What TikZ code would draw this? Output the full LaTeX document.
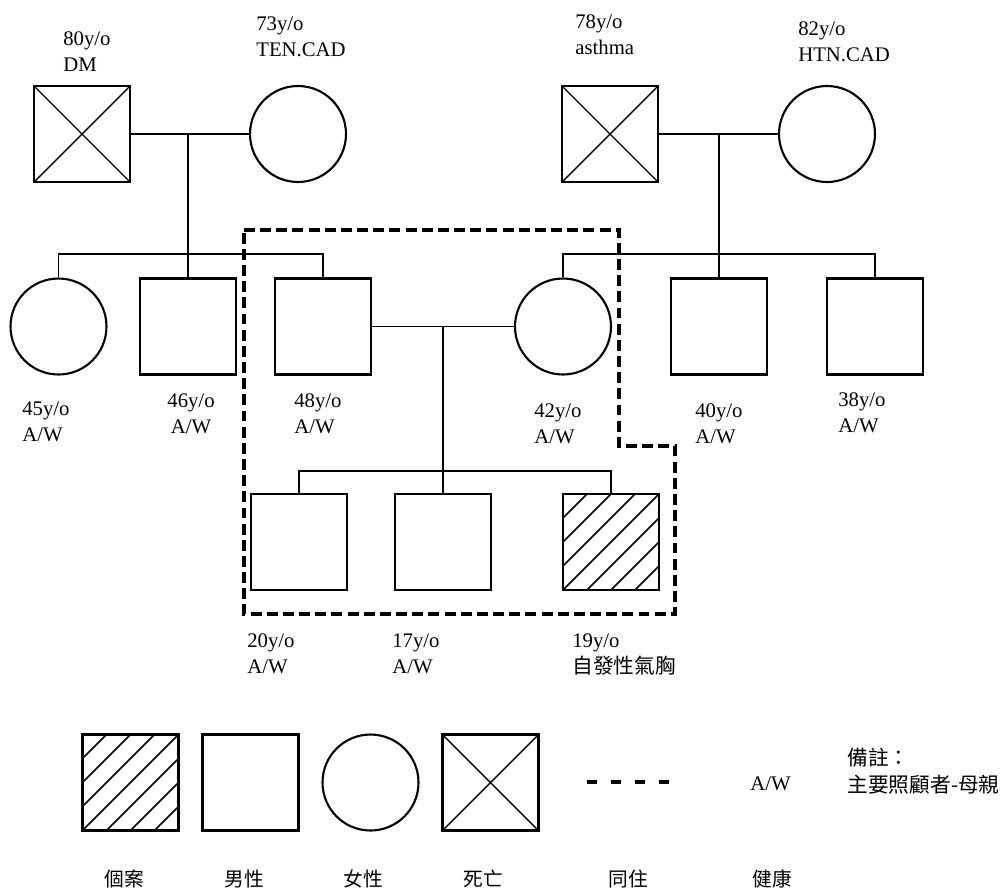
\documentclass[tikz,border=0pt]{standalone}
\usepackage{fontspec}
\setmainfont{Liberation Serif}
\newfontfamily\cjk{Noto Sans CJK TC}
\usetikzlibrary{calc}

\begin{document}
\begin{tikzpicture}[
          x=0.02cm, y=-0.02cm,
          male/.style={rectangle, draw, line width=1.2pt, minimum size=1.92cm,
                       inner sep=0pt},
          heavy/.style={male, line width=1.6pt},
          female/.style={circle, draw, line width=1.2pt, minimum size=1.92cm,
                         inner sep=0pt},
          dead/.style={male, path picture={
              \draw[line width=0.8pt]
                (path picture bounding box.north west) -- (path picture bounding box.south east)
                (path picture bounding box.north east) -- (path picture bounding box.south west);}},
          index/.style={male, path picture={
              \foreach \c in {-3,...,3}
                \draw[line width=0.9pt] ($(path picture bounding box.south west)+(\c*0.48cm,0)$)
                  -- ++(1.92cm,1.92cm);}},
          link/.style={line width=1pt},
          home/.style={line width=2.1pt, dash pattern=on 6.2pt off 3pt},
          lbl/.style={font=\fontsize{11.8}{14.9}\selectfont, inner sep=0pt,
                      anchor=north west, align=left},
          key/.style={font=\fontsize{11.2}{14.9}\selectfont\cjk, inner sep=0pt,
                      anchor=base}
        ]
          \useasboundingbox (0,0) rectangle (1007,890);
          % grandparents
          \node[dead]   (gfa) at (82,134)  {};
          \node[female] (gma) at (298,134) {};
          \node[dead]   (gfb) at (610,134) {};
          \node[female] (gmb) at (827,134) {};
          % second generation
          \node[female] (aunt) at (58.5,326.5) {};
          \node[heavy]  (unca) at (188,326.5)  {};
          \node[heavy]  (dad)  at (323,326.5)  {};
          \node[female] (mom)  at (563,326.5)  {};
          \node[male]   (uncb) at (719,326.5)  {};
          \node[heavy]  (uncc) at (875,326.5)  {};
          % children
          \node[male]  (sona) at (299,542) {};
          \node[male]  (sonb) at (443,542) {};
          \node[index] (case) at (611,542) {};

          \coordinate (siba) at (188,254);
          \coordinate (sibb) at (719,254);
          \coordinate (kids) at (443,471);
          \draw[link] (gfa.east) -- (gma.west);
          \draw[link] (gfb.east) -- (gmb.west);
          \draw[link] (dad.east) -- (mom.west);
          \draw[link] (siba |- gfa.east) -- (unca.north);
          \draw[link] (aunt.north) |- (siba) -| (dad.north);
          \draw[link] (sibb |- gfb.east) -- (uncb.north);
          \draw[link] (mom.north) |- (sibb) -| (uncc.north);
          \draw[link] (kids |- dad.east) -- (sonb.north);
          \draw[link] (sona.north) |- (kids) -| (case.north);

          \draw[home] (244,230) -- (619,230) -- (619,446) -- (675,446)
            -- (675,614) -- (244,614) -- cycle;

          \node[lbl] (tgfa) at (63,31)  {80y/o\\DM};
          \node[lbl] (tgma) at (256,16) {73y/o\\TEN.CAD};
          \node[lbl] (tgfb) at (575,14) {78y/o\\asthma};
          \node[lbl] (tgmb) at (798,21) {82y/o\\HTN.CAD};
          \node[lbl] (taunt) at (22,401) {45y/o\\A/W};
          \node[lbl, anchor=north, align=center] (tunca) at (191,393) {46y/o\\A/W};
          \node[lbl] (tdad) at (294,393) {48y/o\\A/W};
          \node[lbl] (tmom) at (534,403) {42y/o\\A/W};
          \node[lbl] (tuncb) at (695,403) {40y/o\\A/W};
          \node[lbl] (tuncc) at (838,392) {38y/o\\A/W};
          \node[lbl] (tsona) at (247,633) {20y/o\\A/W};
          \node[lbl] (tsonb) at (392,633) {17y/o\\A/W};
          \node[lbl] (tcase) at (572,633) {19y/o\\{\cjk 自發性氣胸}};

          % legend
          \node[index]  (kcase) at (130.5,782.5) {};
          \node[male]   (kmale) at (250.5,782.5) {};
          \node[female] (kfem)  at (370.5,782.5) {};
          \node[dead]   (kdead) at (490.5,782.5) {};
          \coordinate (kla) at (587,782);
          \coordinate (klb) at (670,782);
          \draw[line width=2.1pt, dash pattern=on 5.7pt off 8pt] (kla) -- (klb);
          \node[lbl, anchor=base west] (kaw) at (750,790) {A/W};
          \node[lbl, anchor=base west] (knote) at (847,792)
            {\cjk 備註：\\\cjk 主要照顧者-母親};
          \node[key] (tkcase) at (124,886) {個案};
          \node[key] (tkmale) at (244,886) {男性};
          \node[key] (tkfem)  at (363,886) {女性};
          \node[key] (tkdead) at (483,886) {死亡};
          \node[key] (tkhome) at (628,886) {同住};
          \node[key] (tkaw)   at (772,886) {健康};
        \end{tikzpicture}
\end{document}
